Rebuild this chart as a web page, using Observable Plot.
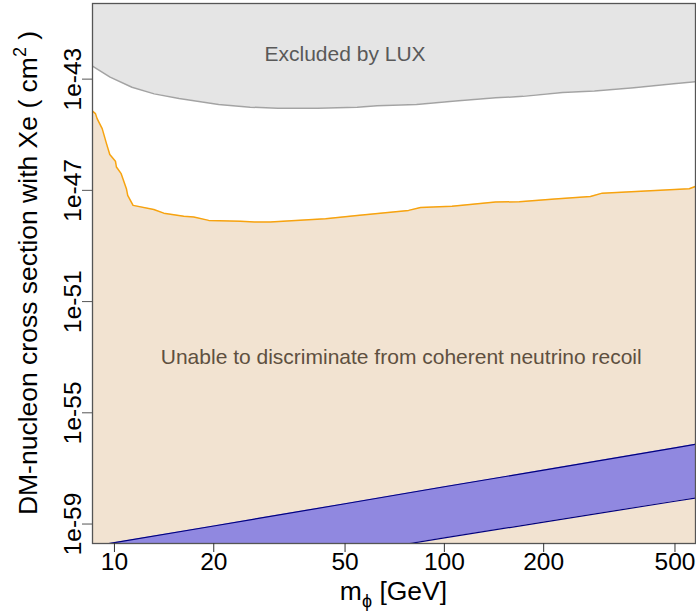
<!DOCTYPE html>
<html>
<head>
<meta charset="utf-8">
<script src="https://cdn.jsdelivr.net/npm/d3@7"></script>
<script src="https://cdn.jsdelivr.net/npm/@observablehq/plot@0.6"></script>
<style>
  html, body { margin: 0; padding: 0; background: #fff; }
  #chart svg { display: block; }
</style>
</head>
<body>
<div id="chart"></div>
<script>
// ---- data (cross sections as log10 exponents) ----
const xTicks = [10, 20, 50, 100, 200, 500];
const yTickExp = [-43, -47, -51, -55, -59];
const xDomain = [8.58, 577];
const yDomainExp = [-59.70, -40.28];

// LUX exclusion limit (grey)
const luxMass = [8.58, 9.70, 11.3, 13.2, 15.7, 20.7, 25.8, 31.3, 41.3, 54.4, 62.5, 82.3, 108, 143, 173, 228, 285, 375, 495, 580];
const luxExp  = [-42.53, -42.93, -43.29, -43.53, -43.70, -43.91, -44.01, -44.05, -44.05, -44.01, -43.96, -43.91, -43.79, -43.67, -43.62, -43.48, -43.43, -43.31, -43.17, -43.09];

// neutrino floor (orange)
const nuMass = [8.58, 8.76, 8.86, 9.18, 9.46, 9.68, 10.07, 10.14, 10.48, 10.87, 10.97, 11.39, 13.16, 14.11, 16.22, 17.39, 19.31, 24.09, 26.57, 29.66, 43.65, 54.42, 77.9, 84.7, 105.5, 143, 168.7, 216.2, 277.2, 301, 407.7, 552.3, 580];
const nuExp  = [-44.15, -44.24, -44.42, -44.78, -45.32, -45.71, -45.95, -46.16, -46.40, -46.94, -47.18, -47.54, -47.69, -47.82, -47.93, -47.96, -48.08, -48.11, -48.14, -48.14, -48.02, -47.90, -47.72, -47.62, -47.57, -47.42, -47.41, -47.31, -47.22, -47.10, -47.02, -46.94, -46.85];

// predicted band (blue)
const bandMass     = [8, 10, 20, 50, 100, 200, 500, 600];
const bandUpperExp = [-59.86, -59.67, -59.07, -58.27, -57.66, -57.06, -56.26, -56.10];
const bandLowerExp = [-61.59, -61.40, -60.83, -60.08, -59.50, -58.93, -58.18, -58.03];

// annotations
const noteText = ["Excluded by LUX", "Unable to discriminate from coherent neutrino recoil"];
const noteMass = [50, 74];
const noteExp  = [-42.09, -53.0];
const noteColor = ["#595959", "#5e5040"];

// ---- build tables ----
const p10 = e => Math.pow(10, e);
const yDomain = yDomainExp.map(p10);
const lux = luxMass.map((m, i) => ({m, s: p10(luxExp[i])}));
const nu = nuMass.map((m, i) => ({m, s: p10(nuExp[i])}));
const band = bandMass.map((m, i) => ({m, lo: p10(bandLowerExp[i]), hi: p10(bandUpperExp[i])}));
const notes = noteText.map((t, i) => ({t, m: noteMass[i], s: p10(noteExp[i]), c: noteColor[i]}));
const yTicks = yTickExp.map(e => ({v: p10(e), label: "1e" + e}));

const W = 696, H = 612;
const mL = 92, mR = 1, mT = 3, mB = 69;
const FONT = "'Liberation Sans', Arial, Helvetica, sans-serif";

const chart = Plot.plot({
  width: W,
  height: H,
  marginLeft: mL,
  marginRight: mR,
  marginTop: mT,
  marginBottom: mB,
  style: {fontFamily: FONT, fontSize: "24px", background: "#fff", color: "#000"},
  x: {type: "log", domain: xDomain, axis: null},
  y: {type: "log", domain: yDomain, axis: null},
  marks: [
    // excluded region
    Plot.areaY(lux, {x: "m", y1: "s", y2: () => yDomain[1], fill: "#e5e5e5", clip: true}),
    // neutrino floor region
    Plot.areaY(nu, {x: "m", y1: () => yDomain[0], y2: "s", fill: "#f2e3d1", clip: true}),
    // band
    Plot.areaY(band, {x: "m", y1: "lo", y2: "hi", fill: "#9088e0", clip: true}),
    Plot.line(band, {x: "m", y: "hi", stroke: "#000080", strokeWidth: 1.2, clip: true}),
    Plot.line(band, {x: "m", y: "lo", stroke: "#000080", strokeWidth: 1.2, clip: true}),
    // curves
    Plot.line(lux, {x: "m", y: "s", stroke: "#a3a3a3", strokeWidth: 1.5, clip: true}),
    Plot.line(nu, {x: "m", y: "s", stroke: "#f7a30f", strokeWidth: 1.5, clip: true}),
    // annotations
    Plot.text(notes, {x: "m", y: "s", text: "t", fill: "c", fontSize: 21, textAnchor: "middle", lineAnchor: "middle"}),
    // frame
    Plot.frame({stroke: "#555", strokeWidth: 1.3}),
    // x axis
    Plot.axisX({ticks: xTicks, tickFormat: d => String(d), tickSize: 9, tickPadding: 0,
                fontSize: 24.5, stroke: "#333", fill: "#000", label: null}),
    // y axis ticks
    Plot.axisY({ticks: yTicks.map(d => d.v), tickFormat: () => "", tickSize: 10,
                stroke: "#555", label: null}),
    // y tick labels (rotated, as in the reference)
    Plot.text(yTicks, {y: "v", text: "label", frameAnchor: "left", dx: -12, rotate: -90,
                       textAnchor: "middle", lineAnchor: "bottom", fontSize: 24.5, fill: "#000"})
  ]
});

document.getElementById("chart").appendChild(chart);

// axis titles with sub/superscripts
const svg = d3.select(chart);
const cx = mL + (W - mL - mR) / 2;
const cy = mT + (H - mT - mB) / 2;

const xt = svg.append("text")
  .attr("x", cx).attr("y", 600)
  .attr("text-anchor", "middle")
  .attr("font-family", FONT).attr("font-size", 26.5).attr("fill", "#000");
xt.append("tspan").text("m");
xt.append("tspan").attr("font-size", 18).attr("dy", 6.5).text("ϕ");
xt.append("tspan").attr("dy", -6.5).text(" [GeV]");

const yt = svg.append("text")
  .attr("transform", `translate(37,${cy}) rotate(-90)`)
  .attr("text-anchor", "middle")
  .attr("font-family", FONT).attr("font-size", 26.5).attr("fill", "#000");
yt.append("tspan").text("DM-nucleon cross section with Xe ( cm");
yt.append("tspan").attr("font-size", 18).attr("dy", -11).text("2");
yt.append("tspan").attr("dy", 11).text(" )");
</script>
</body>
</html>
